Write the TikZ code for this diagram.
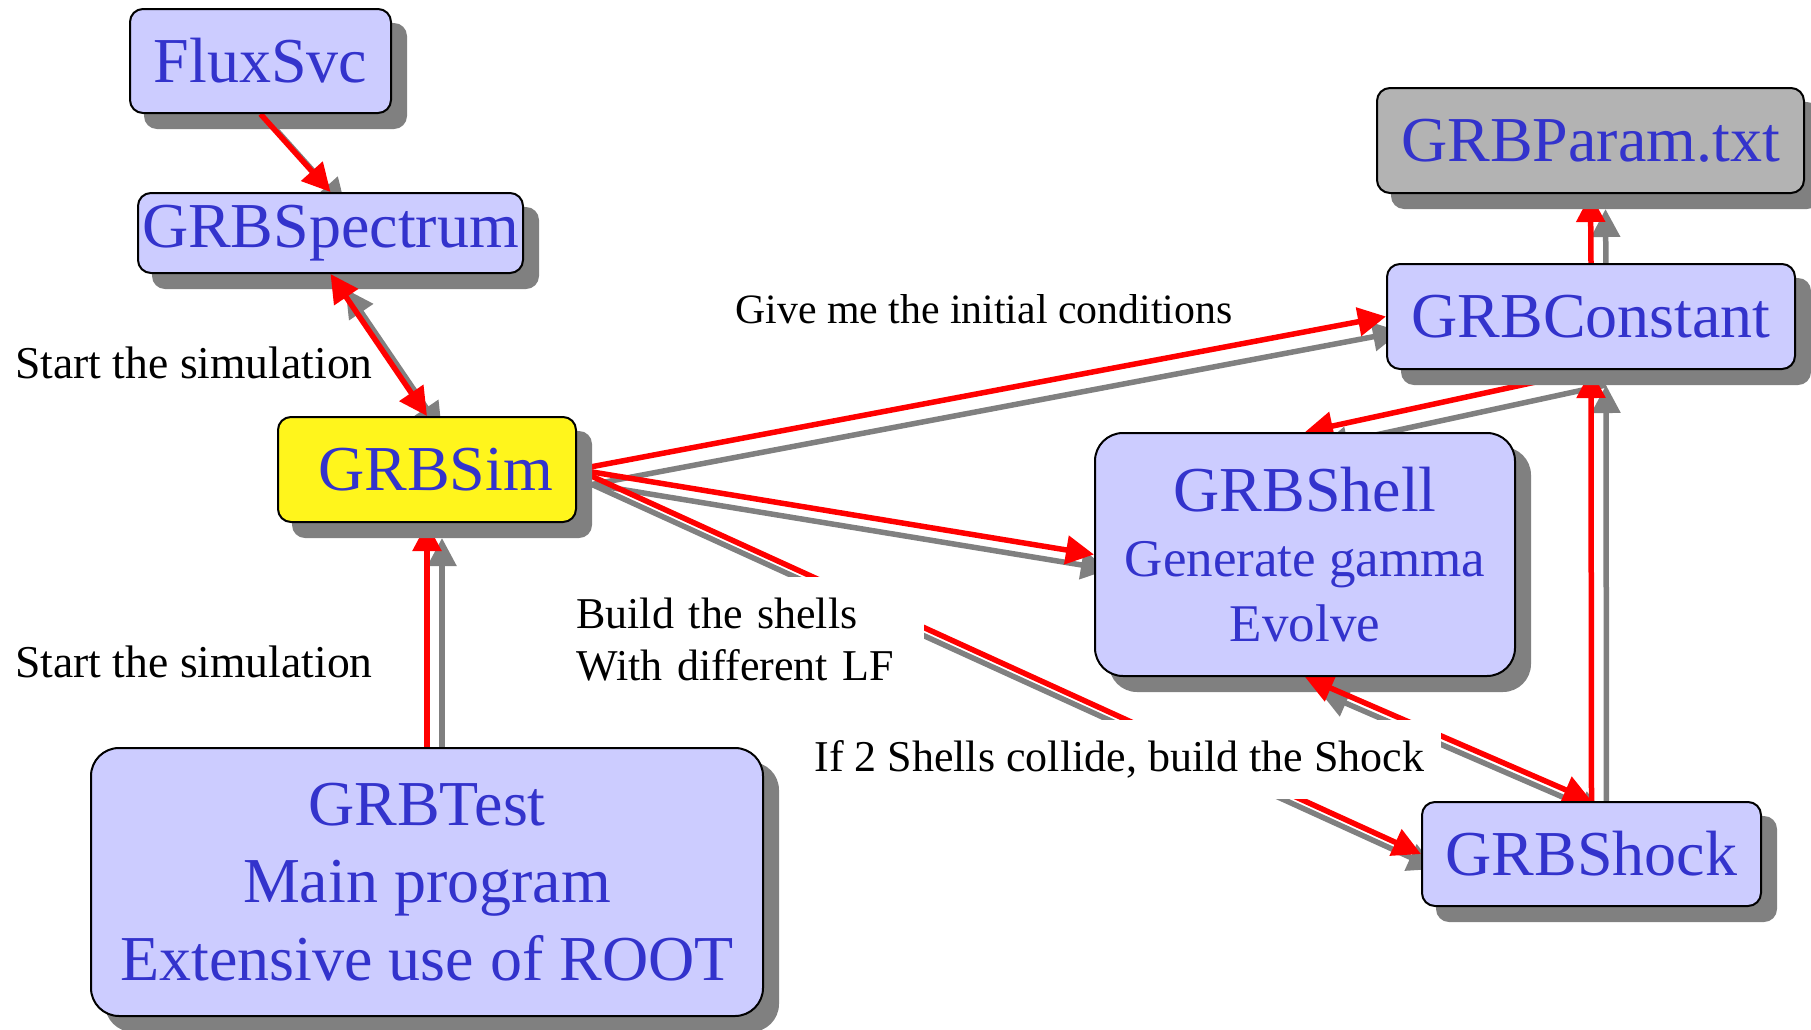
\documentclass[tikz,border=0pt]{standalone}
\usepackage{fontspec}
\setmainfont{Liberation Serif}
\usetikzlibrary{arrows.meta}

\definecolor{boxfill}{HTML}{CCCCFF}
\definecolor{simfill}{HTML}{FFF51C}
\definecolor{paramfill}{HTML}{B3B3B3}
\definecolor{boxtext}{HTML}{3333CC}
\definecolor{shadowgray}{HTML}{808080}

\pgfdeclarelayer{grayarrows}
\pgfdeclarelayer{redbelow}
\pgfdeclarelayer{boxshadows}
\pgfdeclarelayer{redabove}
\pgfsetlayers{grayarrows,redbelow,boxshadows,redabove,main}

\tikzset{
  module/.style={draw=black, line width=1pt, fill=boxfill, text=boxtext,
    rounded corners=6.5pt, inner sep=0pt, font=\fontsize{32}{38.75}\selectfont},
  bigmodule/.style={module, rounded corners=14pt, align=center},
  headtip/.tip={Triangle[length=14pt,width=14pt]},
  link/.style={draw=red, line width=2.75pt},
  ghost/.style={draw=shadowgray, line width=2.75pt},
  note/.style={text=black, inner sep=0pt, font=\fontsize{22}{26}\selectfont},
  notebox/.style={note, fill=white, align=left},
}

% drop shadow of a module box: #1 corner radius, #2 node name
\newcommand\castshadow[2]{%
  \fill[shadowgray, rounded corners=#1] ([shift={(15,15)}]#2.north west) rectangle ([shift={(15,15)}]#2.south east);}

\begin{document}
\begin{tikzpicture}[x=0.5pt,y=-0.5pt]
\useasboundingbox (0,0) rectangle (1811,1029);

% modules
\node[module, minimum width=130.5pt, minimum height=52pt] (flux) at (260.5,61) {FluxSvc};
\node[module, minimum width=192.5pt, minimum height=40pt] (spectrum) at (330.5,233) {GRBSpectrum};
\node[module, fill=simfill, minimum width=149pt, minimum height=52.5pt] (sim) at (427,469.5) {\kern8.5pt GRBSim};
\node[module, fill=paramfill, minimum width=213.5pt, minimum height=52.5pt] (param) at (1590.5,140.5) {GRBParam.txt};
\node[module, minimum width=204pt, minimum height=52.5pt] (constant) at (1591,316.5) {GRBConstant};
\node[bigmodule, font=\fontsize{26.5}{32.5}\selectfont, minimum width=210pt, minimum height=121.5pt] (shell) at (1305,554.5)
  {{\fontsize{32}{32.5}\selectfont GRBShell}\\Generate gamma\\Evolve};
\node[module, minimum width=169.5pt, minimum height=52pt] (shock) at (1591.5,854) {GRBShock};
\node[bigmodule, minimum width=336pt, minimum height=134pt] (test) at (427,882)
  {GRBTest\\Main program\\Extensive use of ROOT};

% shadows of the modules
\begin{pgfonlayer}{boxshadows}
  \castshadow{6.5pt}{flux}
  \castshadow{6.5pt}{spectrum}
  \castshadow{6.5pt}{sim}
  \castshadow{6.5pt}{param}
  \castshadow{6.5pt}{constant}
  \castshadow{14pt}{shell}
  \castshadow{6.5pt}{shock}
  \castshadow{14pt}{test}
\end{pgfonlayer}

% shadows of the connectors
\begin{pgfonlayer}{grayarrows}
  \draw[ghost, -headtip] ([shift={(15,15)}]flux.south) -- ([shift={(15,15)}]spectrum.north);
  \draw[ghost, headtip-headtip] ([shift={(15,15)}]spectrum.south) -- ([shift={(15,15)}]sim.north);
  \draw[ghost, -headtip] ([shift={(15,15)}]test.north) -- ([shift={(15,15)}]sim.south);
  \draw[ghost, -headtip] ([shift={(15,15)}]sim.east) -- ([shift={(15,15)}]constant.west);
  \draw[ghost, -headtip] ([shift={(15,15)}]sim.east) -- ([shift={(15,15)}]shell.west);
  \draw[ghost, -headtip] ([shift={(15,15)}]sim.east) -- ([shift={(15,15)}]shock.west);
  \draw[ghost, -headtip] ([shift={(15,15)}]constant.north) -- ([shift={(15,15)}]param.south);
  \draw[ghost, -headtip] ([shift={(15,15)}]constant.south) -- ([shift={(15,15)}]shell.north);
  \draw[ghost, -headtip] ([shift={(15,15)}]shock.north) -- ([shift={(15,15)}]constant.south);
  \draw[ghost, headtip-headtip] ([shift={(15,15)}]shell.south) -- ([shift={(15,15)}]shock.north);
\end{pgfonlayer}

% connectors partly hidden by the module shadows
\begin{pgfonlayer}{redbelow}
  \draw[link, -headtip] (test.north) -- (sim.south);
  \draw[link, -headtip] (sim.east) -- (constant.west);
  \draw[link, -headtip] (sim.east) -- (shell.west);
  \draw[link, -headtip] (sim.east) -- (shock.west);
  \draw[link, -headtip] (constant.north) -- (param.south);
  \draw[link, -headtip] (constant.south) -- (shell.north);
  \draw[link, -headtip] (shock.north) -- (constant.south);
\end{pgfonlayer}

% connectors drawn over the module shadows
\begin{pgfonlayer}{redabove}
  \draw[link, -headtip] (flux.south) -- (spectrum.north);
  \draw[link, headtip-headtip] (spectrum.south) -- (sim.north);
  \draw[link, headtip-headtip] (shell.south) -- (shock.north);
\end{pgfonlayer}

% labels
\node[note, font=\fontsize{22.8}{26}\selectfont, anchor=base west] (start1) at (15,378) {Start the simulation};
\node[note, font=\fontsize{22.8}{26}\selectfont, anchor=base west] (start2) at (15,677) {Start the simulation};
\node[note, font=\fontsize{20.9}{26}\selectfont, anchor=base west] (give) at (735,323) {Give me the initial conditions};
\node[notebox, anchor=north west, inner xsep=10pt, inner ysep=10.3pt, text width=164pt] (build) at (556,577)
  {Build the shells\\With different LF};
\node[notebox, anchor=north west, inner xsep=8.5pt, inner ysep=10.3pt] (collide) at (797,720)
  {If 2 Shells collide, build the Shock};
\end{tikzpicture}
\end{document}
